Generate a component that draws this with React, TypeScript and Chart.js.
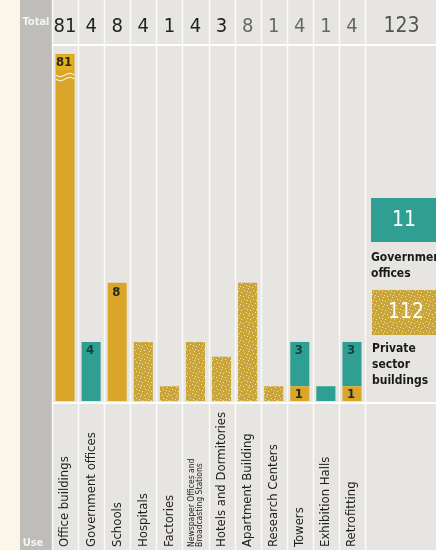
import React, { useEffect, useRef } from "react";
import { Chart, registerables } from "chart.js";

Chart.register(...registerables);

// ---- data ----
const categories = [
  "Office buildings",
  "Government offices",
  "Schools",
  "Hospitals",
  "Factories",
  "Newspaper Offices and|Broadcasting Stations",
  "Hotels and Dormitories",
  "Apartment Building",
  "Research Centers",
  "Towers",
  "Exhibition Halls",
  "Retrofitting",
];
const privateValues = [81, 0, 8, 4, 1, 4, 3, 8, 1, 1, 0, 1];
const governmentValues = [0, 4, 0, 0, 0, 0, 0, 0, 0, 3, 1, 3];
const totals = [81, 4, 8, 4, 1, 4, 3, 8, 1, 4, 1, 4];
const grandTotal = "123";
const governmentTotal = "11";
const privateTotal = "112";
const governmentLegend = ["Government", "offices"];
const privateLegend = ["Private", "sector", "buildings"];
const privateLabelShown = [true, false, true, false, false, false, false, false, false, true, false, true];
const govLabelShown = [false, true, false, false, false, false, false, false, false, true, false, true];
const texturedPrivate = [false, false, false, true, true, true, true, true, true, false, false, false];
const yMax = 23.5;

const GOLD = "#d9a62a";
const GOLD_TEX = "#c9a53a";
const TEAL = "#2f9f94";
const NARROW = '"DejaVu Sans Condensed", "Roboto", sans-serif';

function makeSpeckle(): CanvasPattern | string {
  const c = document.createElement("canvas");
  c.width = 9;
  c.height = 9;
  const g = c.getContext("2d");
  if (!g) return GOLD_TEX;
  g.fillStyle = GOLD_TEX;
  g.fillRect(0, 0, 9, 9);
  g.fillStyle = "rgba(245,235,200,0.85)";
  const dots = [[1, 2], [5, 0], [7, 4], [3, 6], [0, 8], [6, 7], [4, 3]];
  dots.forEach(([x, y]) => g.fillRect(x, y, 1, 1));
  const p = g.createPattern(c, "repeat");
  return p || GOLD_TEX;
}

const panelPlugin = {
  id: "panel",
  beforeDraw(chart: any) {
    const ctx = chart.ctx as CanvasRenderingContext2D;
    const W = chart.width;
    const H = chart.height;
    const xs = chart.scales.x;
    const area = chart.chartArea;
    const colW = (area.right - area.left) / categories.length;
    ctx.save();
    ctx.fillStyle = "#fbf5ea";
    ctx.fillRect(0, 0, W, H);
    ctx.fillStyle = "#bebdb9";
    ctx.fillRect(20, 0, area.left - 20, H);
    ctx.fillStyle = "#e6e5e1";
    ctx.fillRect(area.left, 0, W - area.left, H);
    // column dividers
    ctx.strokeStyle = "rgba(255,255,255,0.8)";
    ctx.lineWidth = 1.5;
    for (let i = 0; i <= categories.length; i++) {
      const x = Math.round(area.left + i * colW) + 0.5;
      ctx.beginPath();
      ctx.moveTo(x, 0);
      ctx.lineTo(x, H);
      ctx.stroke();
    }
    // horizontal separators
    ctx.lineWidth = 2;
    ctx.strokeStyle = "rgba(255,255,255,0.95)";
    ctx.beginPath();
    ctx.moveTo(area.left, 45);
    ctx.lineTo(W, 45);
    ctx.moveTo(area.left, area.bottom + 2);
    ctx.lineTo(W, area.bottom + 2);
    ctx.stroke();

    // header totals
    ctx.textAlign = "center";
    ctx.textBaseline = "middle";
    ctx.font = `20px ${NARROW}`;
    totals.forEach((t, i) => {
      ctx.fillStyle = i < 7 ? "#232322" : "#676763";
      ctx.fillText(String(t), xs.getPixelForValue(i), 27);
    });
    ctx.fillStyle = "#555552";
    ctx.font = `21px ${NARROW}`;
    ctx.fillText(grandTotal, (area.right + W) / 2 + 1, 27);

    // side labels
    ctx.fillStyle = "#f4f4f2";
    ctx.font = `bold 11px ${NARROW}`;
    ctx.fillText("Total", 36, 22);
    ctx.fillText("Use", 33, 543);
    ctx.restore();
  },
  afterDatasetsDraw(chart: any) {
    const ctx = chart.ctx as CanvasRenderingContext2D;
    const W = chart.width;
    const H = chart.height;
    const xs = chart.scales.x;
    const area = chart.chartArea;
    const pMeta = chart.getDatasetMeta(0);
    const gMeta = chart.getDatasetMeta(1);
    ctx.save();
    ctx.textAlign = "center";
    ctx.textBaseline = "middle";

    // office bar break + label
    const office = pMeta.data[0];
    if (office) {
      const bw = office.width;
      const bx = office.x - bw / 2;
      ctx.fillStyle = "#e4b21e";
      ctx.fillRect(bx + 1, area.top + 1, bw - 3, 15);
      ctx.fillStyle = "#2a2a1a";
      ctx.font = `bold 13px ${NARROW}`;
      ctx.fillText(String(privateValues[0]), office.x - 1, area.top + 9);
      ctx.strokeStyle = "#f6ecd0";
      ctx.lineWidth = 1.3;
      for (let k = 0; k < 2; k++) {
        const yy = area.top + 21 + k * 4;
        ctx.beginPath();
        for (let s = 0; s <= bw; s++) {
          const px = bx + s;
          const py = yy + Math.sin((s / bw) * Math.PI * 2) * 1.6;
          if (s === 0) ctx.moveTo(px, py);
          else ctx.lineTo(px, py);
        }
        ctx.stroke();
      }
    }

    // value labels on bars
    ctx.font = `bold 13px ${NARROW}`;
    privateValues.forEach((v, i) => {
      if (!privateLabelShown[i] || i === 0) return;
      const el = pMeta.data[i];
      const h = el.base - el.y;
      ctx.fillStyle = "#2a2a1a";
      const y = h < 20 ? (el.y + el.base) / 2 : el.y + 9;
      ctx.fillText(String(v), el.x - 1, y + 1);
    });
    governmentValues.forEach((v, i) => {
      if (!govLabelShown[i]) return;
      const el = gMeta.data[i];
      ctx.fillStyle = "#173f3b";
      ctx.fillText(String(v), el.x - 1, el.y + 9);
    });

    // category labels (rotated, anchored at bottom)
    ctx.fillStyle = "#1e1e1c";
    ctx.textAlign = "left";
    categories.forEach((c, i) => {
      const x = xs.getPixelForValue(i);
      ctx.save();
      ctx.translate(x, H - 3);
      ctx.rotate(-Math.PI / 2);
      const parts = c.split("|");
      if (parts.length > 1) {
        ctx.font = `8.5px ${NARROW}`;
        ctx.fillText(parts[0], 0, -4);
        ctx.fillText(parts[1], 0, 4);
      } else {
        ctx.font = `13px ${NARROW}`;
        ctx.fillText(c, 0, 0);
      }
      ctx.restore();
    });

    // legend (right)
    const lx = area.right + 6;
    ctx.textAlign = "center";
    ctx.fillStyle = TEAL;
    ctx.fillRect(lx, 198, W - lx, 44);
    ctx.fillStyle = "#ffffff";
    ctx.font = `21px ${NARROW}`;
    ctx.fillText(governmentTotal, lx + 33, 221);
    ctx.fillStyle = (chart as any).$speckle || GOLD_TEX;
    ctx.fillRect(lx + 1, 290, W - lx - 1, 45);
    ctx.fillStyle = "#ffffff";
    ctx.fillText(privateTotal, lx + 35, 313);

    ctx.textAlign = "left";
    ctx.fillStyle = "#1a1a18";
    ctx.font = `bold 12px ${NARROW}`;
    governmentLegend.forEach((t, k) => ctx.fillText(t, lx, 258 + k * 16));
    privateLegend.forEach((t, k) => ctx.fillText(t, lx + 1, 349 + k * 16));
    ctx.restore();
  },
};

export default function App() {
  const ref = useRef<HTMLCanvasElement | null>(null);
  useEffect(() => {
    document.body.style.margin = "0";
    const canvas = ref.current;
    if (!canvas) return;
    const speckle = makeSpeckle();
    const privateColors = privateValues.map((_, i) => (texturedPrivate[i] ? speckle : GOLD));
    const chart = new Chart(canvas, {
      type: "bar",
      data: {
        labels: categories,
        datasets: [
          {
            label: "Private sector buildings",
            data: privateValues,
            backgroundColor: privateColors as any,
            borderWidth: 0,
            stack: "s",
          },
          {
            label: "Government offices",
            data: governmentValues,
            backgroundColor: TEAL,
            borderWidth: 0,
            stack: "s",
          },
        ],
      },
      options: {
        responsive: false,
        animation: false,
        devicePixelRatio: 1,
        layout: { padding: { left: 52, right: 71, top: 54, bottom: 149 } },
        plugins: { legend: { display: false }, tooltip: { enabled: false } },
        datasets: { bar: { barPercentage: 0.73, categoryPercentage: 1 } },
        scales: {
          x: { display: false, stacked: true },
          y: { display: false, stacked: true, min: 0, max: yMax },
        },
      },
      plugins: [panelPlugin],
    });
    (chart as any).$speckle = speckle;
    chart.draw();
    return () => chart.destroy();
  }, []);
  return <canvas ref={ref} width={436} height={550} style={{ display: "block" }} />;
}
